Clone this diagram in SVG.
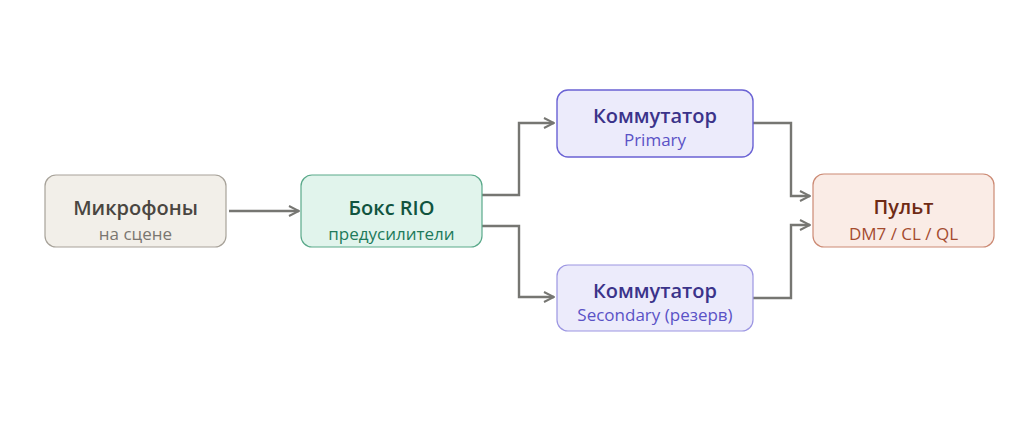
<svg xmlns="http://www.w3.org/2000/svg" width="1024" height="422" viewBox="0 0 1024 422">
<defs>
<marker id="arr" viewBox="0 0 12 12" refX="11" refY="6" markerWidth="12" markerHeight="12" markerUnits="userSpaceOnUse" orient="auto">
<path d="M1,1 L11,6 L1,11" fill="none" stroke="#767672" stroke-width="2"/>
</marker>
<style>
text{font-family:"Open Sans","Noto Sans","DejaVu Sans",sans-serif;text-anchor:middle}
.t{font-size:20px;font-weight:600}
.s{font-size:17px}
.c{fill:none;stroke:#767672;stroke-width:2.4;marker-end:url(#arr)}
</style>
</defs>
<rect width="1024" height="422" fill="#ffffff"/>
<g id="connectors">
<path class="c" d="M229,211 H299"/>
<path class="c" d="M482,195 H519 V123 H554"/>
<path class="c" d="M482,226 H519 V297 H554"/>
<path class="c" d="M753,123 H791 V196 H810"/>
<path class="c" d="M753,298 H791 V225 H810"/>
</g>
<g id="mics">
<rect x="45" y="175" width="181" height="72" rx="11" fill="#f2efe9" stroke="#a7a299" stroke-width="1.2"/>
<text class="t" x="135.5" y="215" fill="#4a4641">Микрофоны</text>
<text class="s" x="135.5" y="240" fill="#7a7670">на сцене</text>
</g>
<g id="rio">
<rect x="301" y="175" width="181" height="72" rx="11" fill="#e1f4ec" stroke="#5aa98a" stroke-width="1.2"/>
<text class="t" x="391.5" y="215" fill="#11543f">Бокс RIO</text>
<text class="s" x="391.5" y="240" fill="#217a5b">предусилители</text>
</g>
<g id="primary">
<rect x="557" y="90" width="196" height="67" rx="11" fill="#ecebfb" stroke="#6a62d4" stroke-width="1.4"/>
<text class="t" x="655" y="123" fill="#3b338a">Коммутатор</text>
<text class="s" x="655" y="146" fill="#5a52c6">Primary</text>
</g>
<g id="secondary">
<rect x="557" y="265" width="196" height="66" rx="11" fill="#ecebfb" stroke="#9c96e2" stroke-width="1.2"/>
<text class="t" x="655" y="298" fill="#3b338a">Коммутатор</text>
<text class="s" x="655" y="321" fill="#5a52c6">Secondary (резерв)</text>
</g>
<g id="pult">
<rect x="813" y="174" width="181" height="73" rx="11" fill="#faece6" stroke="#cc8a74" stroke-width="1.2"/>
<text class="t" x="903.5" y="214" fill="#6e2a14">Пульт</text>
<text class="s" x="903.5" y="240" fill="#a44b2f">DM7 / CL / QL</text>
</g>
</svg>
